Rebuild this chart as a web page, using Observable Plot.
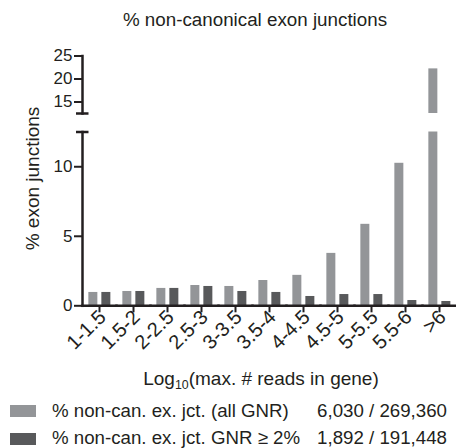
<!DOCTYPE html>
<html><head><meta charset="utf-8">
<script src="https://cdn.jsdelivr.net/npm/d3@7"></script>
<script src="https://cdn.jsdelivr.net/npm/@observablehq/plot@0.6"></script>
<style>
html,body{margin:0;padding:0;background:#fff;overflow:hidden}
#wrap{position:relative;width:456px;height:448px;overflow:hidden;font-family:"Liberation Sans",Arial,sans-serif;color:#231f20;background:#fff}
#wrap svg{position:absolute;left:0;top:0}
.t{position:absolute;white-space:nowrap;line-height:1}
.t sub{font-size:0.65em;vertical-align:-0.3em;line-height:0}
.sw{position:absolute;width:26px;height:12px}
</style></head><body>
<div id="wrap"></div>
<script>
// ---- data ----
const categories = ["1-1.5","1.5-2","2-2.5","2.5-3","3-3.5","3.5-4","4-4.5","4.5-5","5-5.5","5.5-6",">6"];
const allGNR = [0.96,1.03,1.25,1.46,1.39,1.82,2.19,3.77,5.86,10.25,22.2];
const gnr2   = [0.96,1.03,1.25,1.39,1.03,0.96,0.67,0.81,0.81,0.38,0.31];
const seriesKeys = ["all","gnr2"];
const seriesLabels = ["% non-can. ex. jct. (all GNR)","% non-can. ex. jct. GNR \u2265 2%"];
const seriesTotals = ["6,030 / 269,360","1,892 / 191,448"];
const seriesColors = ["#939598","#58595b"];
const lowerTicks = [0,5,10];
const upperTicks = [15,20,25];
const breakValue = 12.5;
const topValue = 25;
const titleText = "% non-canonical exon junctions";
const yLabelText = "% exon junctions";

const ink = "#231f20";
const rows = categories.flatMap((c,i)=>[
  {cat:c, series:seriesKeys[0], value:allGNR[i]},
  {cat:c, series:seriesKeys[1], value:gnr2[i]}
]);

const common = {
  width: 458,
  marginLeft: 80.65, marginRight: 0,
  style: {fontFamily:"Liberation Sans, Arial, sans-serif", color: ink, background:"transparent", maxWidth:"none", overflow:"visible"},
  x: {domain: seriesKeys, paddingInner: 0.32, paddingOuter: 0.455, axis: null},
  color: {domain: seriesKeys, range: seriesColors}
};

const lower = Plot.plot({
  ...common,
  height: 362, marginTop: 131.5, marginBottom: 56.7,
  fx: {domain: categories, padding: 0, label: null},
  y: {domain: [0, breakValue]},
  marks: [
    Plot.barY(rows, {fx:"cat", x:"series", y:"value", fill:"series", clip:true}),
    Plot.frame({anchor:"bottom", stroke: ink, strokeWidth: 2.5}),
    Plot.frame({anchor:"left", facetAnchor:"left", stroke: ink, strokeWidth: 2.5}),
    Plot.axisY(lowerTicks, {tickSize: 8, tickPadding: 2, strokeWidth: 2, fontSize: 17, fill: ink, stroke: ink, label: null}),
    Plot.axisY([breakValue], {tickSize: 12.5, dx: 6.5, text: null, strokeWidth: 2.5, stroke: ink, label: null}),
    Plot.axisFx({anchor:"bottom", tickSize: 7, strokeWidth: 2, stroke: ink, text: null, label: null}),
    Plot.axisFx({anchor:"bottom", tickRotate: -45, tickSize: 0, tickPadding: 8, fontSize: 20, fill: ink, label: null, dx: 3})
  ]
});

const upper = Plot.plot({
  ...common,
  height: 120, marginTop: 55.5, marginBottom: 7,
  fx: {domain: categories, padding: 0, label: null, axis: null},
  y: {domain: [breakValue, topValue]},
  marks: [
    Plot.barY(rows, {fx:"cat", x:"series", y:"value", fill:"series", clip:true}),
    Plot.frame({anchor:"left", facetAnchor:"left", stroke: ink, strokeWidth: 2.5}),
    Plot.axisY(upperTicks, {tickSize: 8, tickPadding: 2, strokeWidth: 2, fontSize: 17, fill: ink, stroke: ink, label: null}),
    Plot.axisY([breakValue], {tickSize: 12.5, dx: 6.5, text: null, strokeWidth: 2.5, stroke: ink, label: null})
  ]
});

const wrap = document.getElementById("wrap");
wrap.appendChild(lower);
wrap.appendChild(upper);

function addText(html, css){
  const d = document.createElement("div");
  d.className = "t";
  d.innerHTML = html;
  Object.assign(d.style, css);
  wrap.appendChild(d);
  return d;
}
// title
addText(titleText, {left:"255px", top:"11.1px", fontSize:"18.8px", transform:"translateX(-50%)"});
// y label
addText(yLabelText, {left:"-78px", top:"168.5px", width:"220px", textAlign:"center", fontSize:"19px", transform:"rotate(-90deg)"});
// x label
addText("Log<sub>10</sub>(max. # reads in gene)", {left:"261px", top:"368.9px", fontSize:"19px", transform:"translateX(-50%)"});
// legend
const rowTops = [402.2, 428.6];
const swTops = [405, 433.3];
seriesKeys.forEach((k,i)=>{
  const s = document.createElement("div");
  s.className = "sw";
  Object.assign(s.style, {left:"10px", top: swTops[i]+"px", background: seriesColors[i]});
  wrap.appendChild(s);
  addText(seriesLabels[i], {left:"52px", top: rowTops[i]+"px", fontSize:"18.7px"});
  addText(seriesTotals[i], {right:"9px", top: rowTops[i]+"px", fontSize:"18.7px"});
});
</script>
</body></html>
